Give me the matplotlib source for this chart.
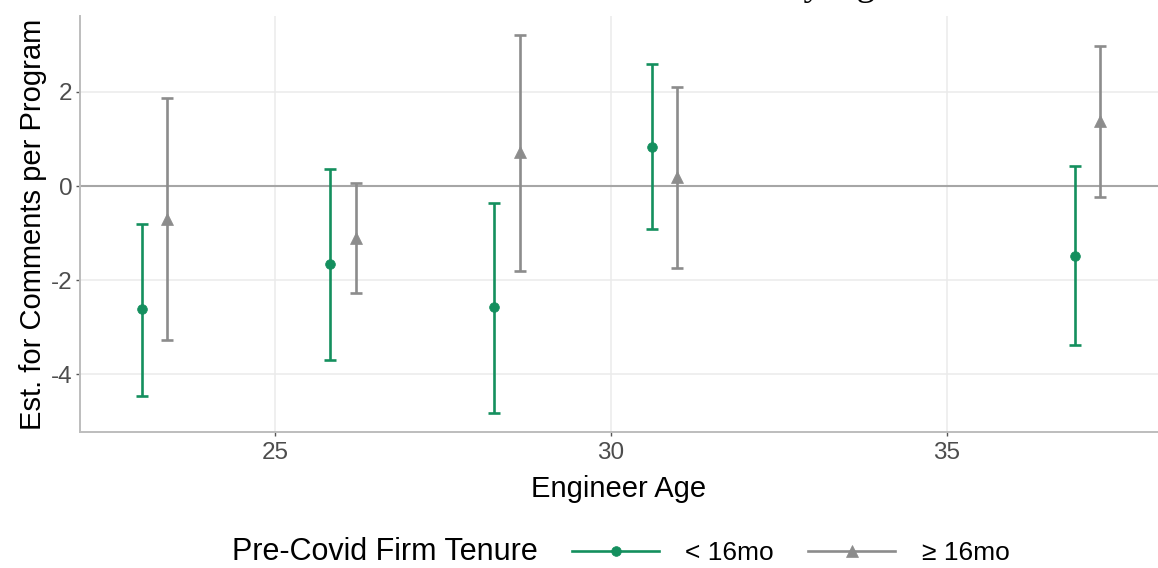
import matplotlib
matplotlib.use("Agg")
import matplotlib.pyplot as plt
from matplotlib.lines import Line2D
import numpy as np

plt.rcParams['font.family'] = ['Liberation Sans', 'DejaVu Sans']

# Estimates by engineer age, split by pre-Covid firm tenure
age_short = [23.02, 25.82, 28.26, 30.61, 36.90]
est_short = [-2.62, -1.67, -2.58, 0.84, -1.48]
low_short = [-4.46, -3.71, -4.82, -0.91, -3.38]
high_short = [-0.81, 0.36, -0.36, 2.60, 0.43]

age_long = [23.39, 26.20, 28.64, 30.99, 37.28]
est_long = [-0.71, -1.11, 0.73, 0.19, 1.39]
low_long = [-3.28, -2.28, -1.80, -1.75, -0.23]
high_long = [1.87, 0.06, 3.21, 2.10, 2.98]

x_ticks = [25, 30, 35]
y_ticks = [-4, -2, 0, 2]
y_tick_labels = ['-4', '-2', '0', '2']

labels = ['< 16mo', '\u2265 16mo']
colors = ['#148F5E', '#8C8C8C']
markers = ['o', '^']
marker_sizes = [7, 8.5]

W, H = 1158, 568
fig = plt.figure(figsize=(W / 100, H / 100), dpi=100)
ax = fig.add_axes([80 / W, 136 / H, (W - 80) / W, (432 - 16) / H])

ax.set_xlim(22.10, 38.14)
ax.set_ylim(-5.234, 3.617)

ax.set_xticks(x_ticks)
ax.set_yticks(y_ticks)
ax.set_yticklabels(y_tick_labels)
ax.grid(True, color='#EBEBEB', linewidth=1.1, zorder=0)
ax.set_axisbelow(True)

ax.axhline(0, color='#A6A6A6', linewidth=1.5, zorder=1)

series = [
    (age_short, est_short, low_short, high_short),
    (age_long, est_long, low_long, high_long),
]
for (xs, ys, lo, hi), c, m, ms in zip(series, colors, markers, marker_sizes):
    xs = np.asarray(xs)
    ys = np.asarray(ys)
    err = np.vstack([ys - np.asarray(lo), np.asarray(hi) - ys])
    eb = ax.errorbar(xs, ys, yerr=err, fmt=m, color=c, ecolor=c,
                     elinewidth=1.9, capsize=4.2, capthick=1.9,
                     markersize=ms, markeredgecolor=c, zorder=3)
    eb[0].set_markeredgewidth(0.5)

for side in ['top', 'right']:
    ax.spines[side].set_visible(False)
for side in ['left', 'bottom']:
    ax.spines[side].set_color('#BDBDBD')
    ax.spines[side].set_linewidth(1.4)

ax.tick_params(axis='x', colors='#555555', length=3, width=1.0,
               labelsize=17.5, labelcolor='#4D4D4D', pad=4)
ax.tick_params(axis='y', colors='#555555', length=3, width=1.0,
               labelsize=17.5, labelcolor='#4D4D4D', pad=2.5)

ax.set_xlabel('Engineer Age', fontsize=21, color='black', labelpad=8)
ax.set_ylabel('Est. for Comments per Program', fontsize=21, color='black', labelpad=3)

# Title sits at the very top edge of the figure
fig.text(892 / W, (H + 5) / H, 'Estimated Effects on Comments by Age',
         ha='right', va='baseline', fontsize=27,
         family=['Liberation Serif', 'DejaVu Serif'], color='black')

# Legend along the bottom, title to the left of the keys
fig.text(232 / W, 16 / H, 'Pre-Covid Firm Tenure', ha='left', va='center',
         fontsize=22, color='black')
handles = [Line2D([0], [0], color=c, marker=m, linewidth=1.9,
                  markersize=ms, markeredgecolor=c, markeredgewidth=0.5)
           for c, m, ms in zip(colors, markers, marker_sizes)]
fig.legend(handles, labels, loc='center left', bbox_to_anchor=(572 / W, 15 / H),
           ncol=2, frameon=False, fontsize=19, handlelength=3.3,
           handletextpad=1.0, columnspacing=1.3, borderaxespad=0, borderpad=0)

fig.savefig('out.png', dpi=100, facecolor='white')
